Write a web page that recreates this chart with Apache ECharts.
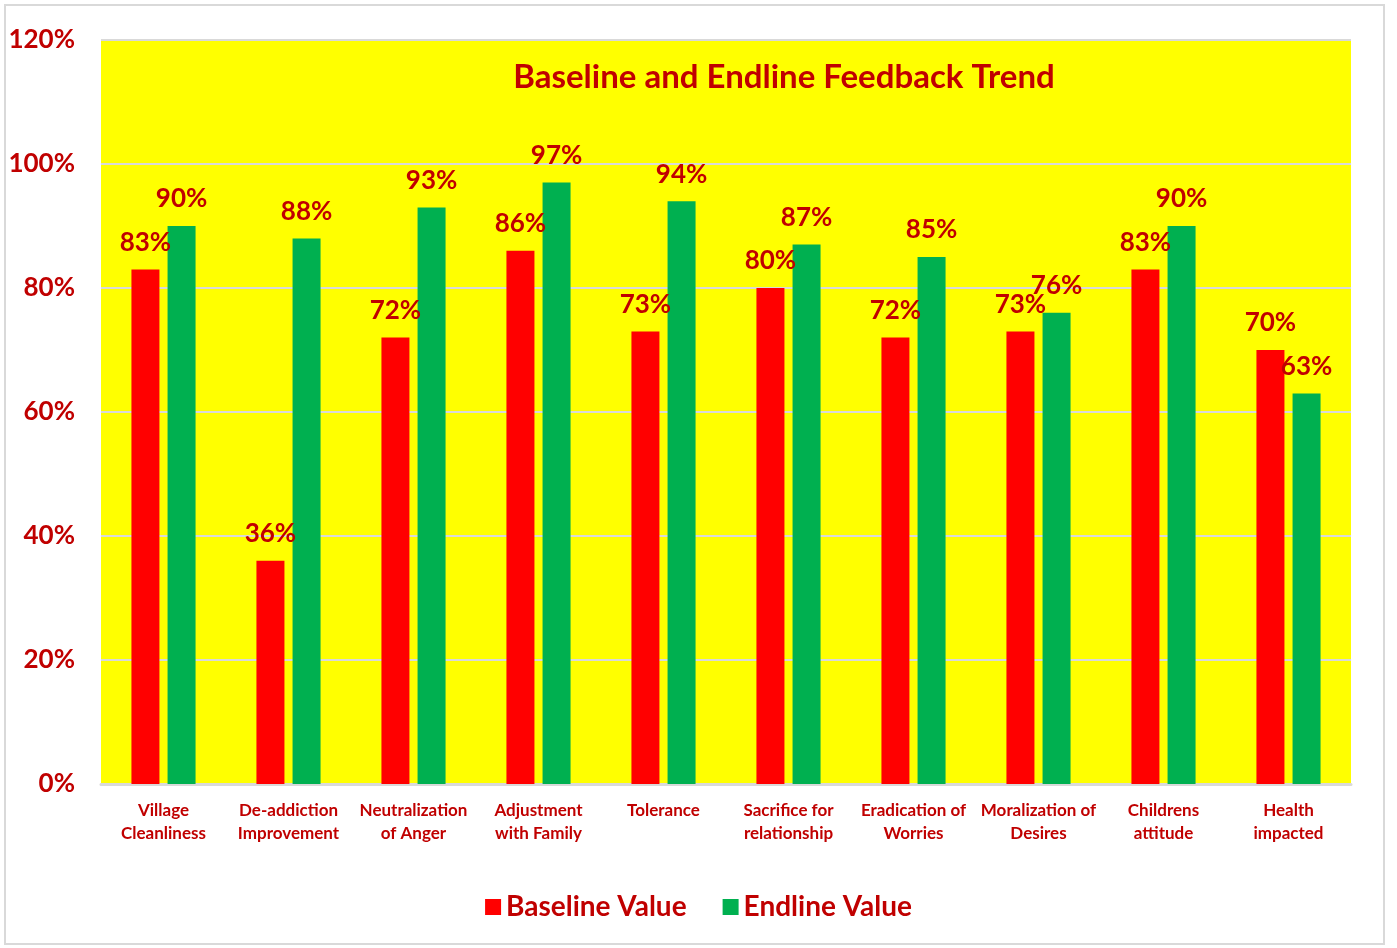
<!DOCTYPE html>
<html>
<head>
<meta charset="utf-8">
<script src="https://cdn.jsdelivr.net/npm/echarts@6/dist/echarts.min.js"></script>
<style>
  html, body { margin: 0; padding: 0; background: #fff; }
  #frame { position: absolute; left: 4px; top: 4px; width: 1381px; height: 941px; border: 2px solid #d9d9d9; box-sizing: border-box; }
  #chart { position: absolute; left: 0; top: 0; width: 1397px; height: 948px; }
</style>
</head>
<body>
<div id="frame"></div>
<div id="chart"></div>
<script>
  // categories and values (percent)
  var categories = ['Village\nCleanliness', 'De-addiction\nImprovement', 'Neutralization\nof Anger', 'Adjustment\nwith Family', 'Tolerance',
    'Sacrifice for\nrelationship', 'Eradication of\nWorries', 'Moralization of\nDesires', 'Childrens\nattitude', 'Health\nimpacted'];
  var baselineValues = [83, 36, 72, 86, 73, 80, 72, 73, 83, 70];
  var endlineValues = [90, 88, 93, 97, 94, 87, 85, 76, 90, 63];
  var seriesNames = ['Baseline Value', 'Endline Value'];

  var textColor = '#C00000';
  var fontFam = 'Lato, "Open Sans", sans-serif';

  var myChart = echarts.init(document.getElementById('chart'));
  var labelStyle = {
    show: true,
    position: 'top',
    distance: 14,
    formatter: '{c}%',
    color: textColor,
    fontSize: 26,
    fontWeight: 'bold',
    fontFamily: fontFam
  };
  var option = {
    backgroundColor: 'transparent',
    title: {
      text: 'Baseline and Endline Feedback Trend',
      left: 779,
      textAlign: 'center',
      top: 56,
      textStyle: { color: textColor, fontSize: 33, fontWeight: 'bold', fontFamily: fontFam }
    },
    legend: {
      bottom: 22,
      left: 'center',
      itemWidth: 16,
      itemHeight: 16,
      itemGap: 36,
      icon: 'rect',
      data: seriesNames,
      textStyle: { color: textColor, fontSize: 28, fontWeight: 'bold', fontFamily: fontFam }
    },
    grid: {
      left: 101,
      right: 46,
      top: 40,
      bottom: 164,
      show: true,
      backgroundColor: '#FFFF00',
      borderWidth: 0
    },
    xAxis: {
      type: 'category',
      data: categories,
      axisLine: { lineStyle: { color: '#d9d9d9', width: 3 } },
      axisTick: { show: false },
      axisLabel: {
        interval: 0,
        margin: 15,
        lineHeight: 23,
        color: textColor,
        fontSize: 17,
        fontWeight: 'bold',
        fontFamily: fontFam
      }
    },
    yAxis: {
      type: 'value',
      min: 0,
      max: 120,
      interval: 20,
      axisLine: { show: false },
      axisTick: { show: false },
      splitLine: { lineStyle: { color: '#d9d9d9', width: 2 } },
      axisLabel: {
        formatter: '{value}%',
        margin: 26,
        color: textColor,
        fontSize: 26,
        fontWeight: 'bold',
        fontFamily: fontFam
      }
    },
    series: [{
      name: seriesNames[0],
      type: 'bar',
      data: baselineValues,
      barWidth: 28,
      barGap: '29%',
      itemStyle: { color: '#FF0000' },
      label: labelStyle
    }, {
      name: seriesNames[1],
      type: 'bar',
      data: endlineValues,
      barWidth: 28,
      itemStyle: { color: '#00B050' },
      label: labelStyle
    }]
  };
  myChart.setOption(option);
</script>
</body>
</html>
